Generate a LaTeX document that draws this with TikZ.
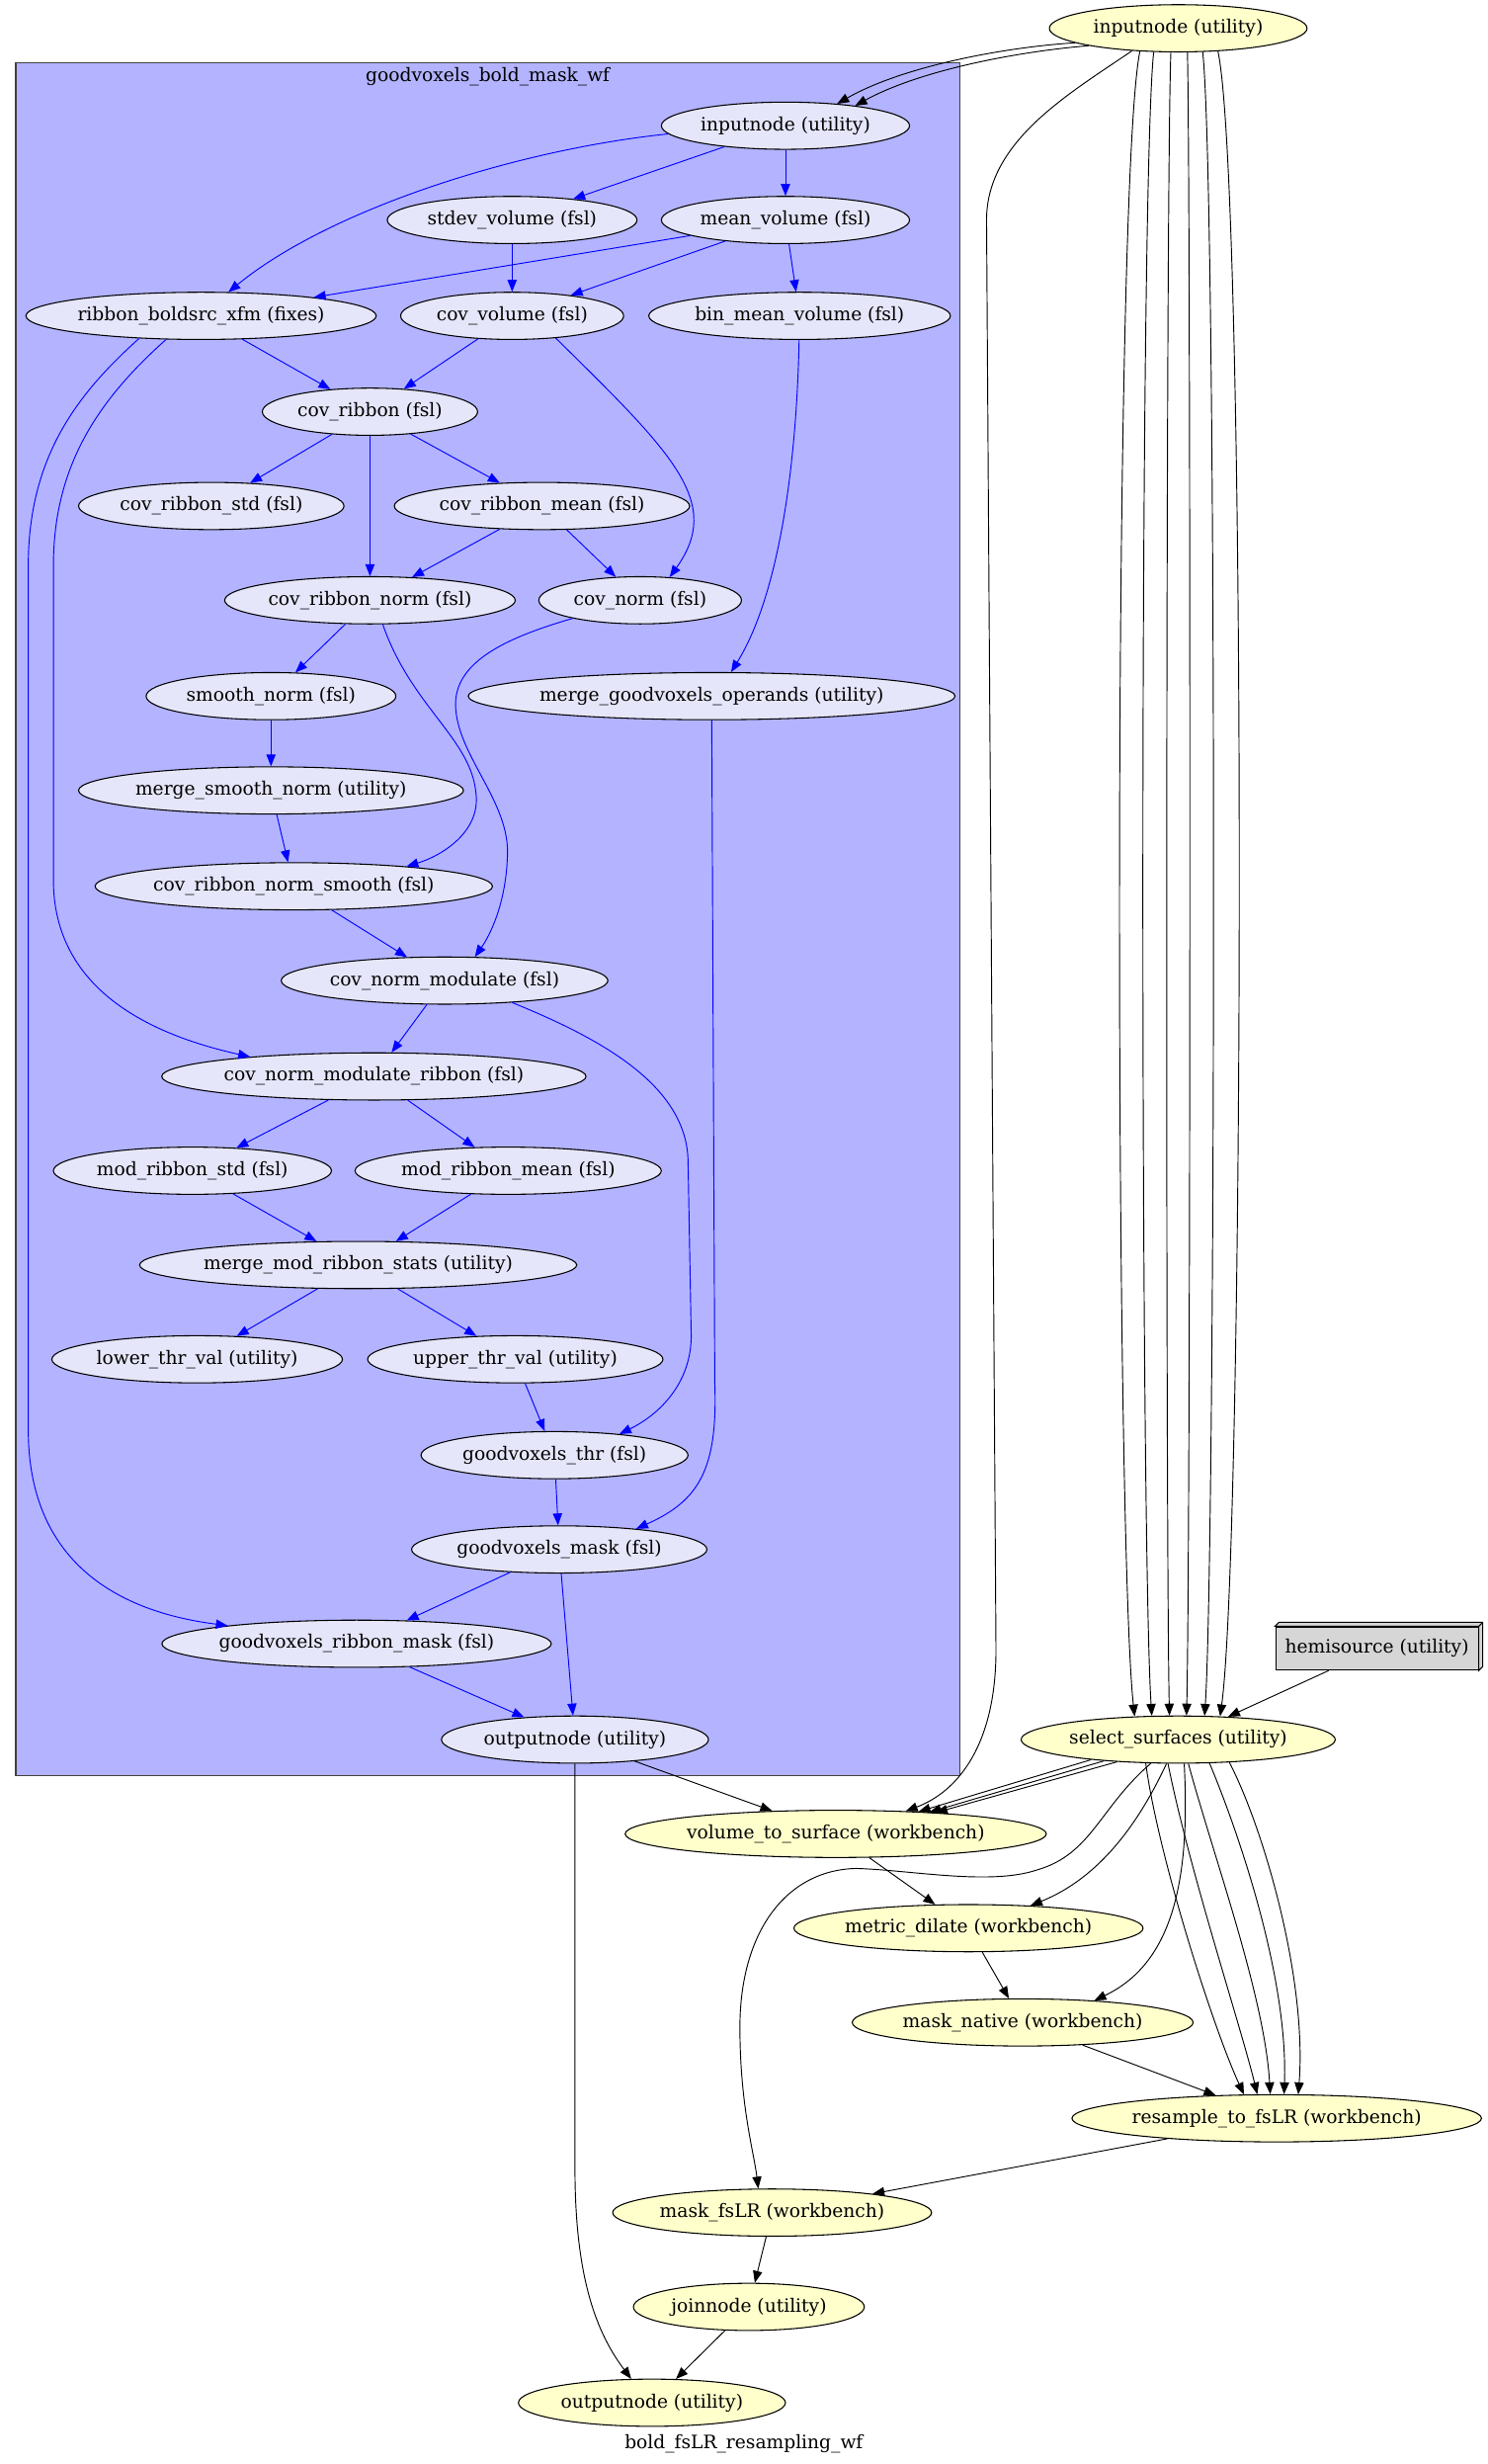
\documentclass[tikz,border=0pt]{standalone}
\usepackage{fontspec}
\setmainfont{DejaVu Serif}
\usepackage{xcolor}
\usepackage{tikz}
\usetikzlibrary{shapes.geometric,arrows.meta}
\definecolor{clusterblue}{HTML}{B3B3FF}
\definecolor{lavenderfill}{HTML}{E6E6FA}
\definecolor{yellowfill}{HTML}{FFFFCC}
\definecolor{greyfill}{HTML}{D6D6D6}

\begin{document}
\begin{tikzpicture}[
			x=1.1925pt, y=-1.1925pt,
			% Define the style for the nodes
			every node/.style={font=\fontsize{14}{16}\selectfont},
			innernode/.style={ellipse, draw, line width=0.8pt, fill=lavenderfill, inner sep=0pt, minimum height=35.8pt},
			outernode/.style={ellipse, draw, line width=0.8pt, fill=yellowfill, inner sep=0pt, minimum height=35.8pt},
			blueedge/.style={draw=blue, line width=0.7pt, -{Triangle[length=9pt,width=7pt]}},
			blackedge/.style={draw=black, line width=0.7pt, -{Triangle[length=9pt,width=7pt]}}
			]

			\useasboundingbox (0,0) rectangle (947,1568);

			\draw[black!75, line width=1pt, fill=clusterblue] (10,40) rectangle (611,1130);
			\node (clusterlabel) at (310.5,49) {goodvoxels\_bold\_mask\_wf};

			\node (inp0) at (750,18) [outernode, minimum width=195.6pt] {inputnode (utility)};
			\node (sel) at (750,1107) [outernode, minimum width=238.5pt] {select\_surfaces (utility)};
			\node (hemi) at (876.5,1049) [rectangle, draw, line width=0.8pt, fill=greyfill, inner sep=0pt, minimum width=153.8pt, minimum height=32.8pt] {hemisource (utility)};
			\draw[line width=0.8pt, fill=greyfill] (hemi.north west) -- ++(3pt,3pt) -- ([shift={(3pt,3pt)}]hemi.north east) -- ([shift={(3pt,3pt)}]hemi.south east) -- (hemi.south east) -- (hemi.north east) -- cycle;
			\draw[line width=0.8pt] (hemi.north east) -- ++(3pt,3pt);
			\node (v2s) at (532,1167) [outernode, minimum width=313.6pt] {volume\_to\_surface (workbench)};
			\node (md) at (616.5,1227) [outernode, minimum width=263.5pt] {metric\_dilate (workbench)};
			\node (mn) at (651,1287) [outernode, minimum width=258.8pt] {mask\_native (workbench)};
			\node (rs) at (812.7,1348) [outernode, minimum width=306.5pt] {resample\_to\_fsLR (workbench)};
			\node (mf) at (491.5,1408) [outernode, minimum width=242.1pt] {mask\_fsLR (workbench)};
			\node (jn) at (476.7,1468) [outernode, minimum width=175.3pt] {joinnode (utility)};
			\node (out0) at (415,1529) [outernode, minimum width=202.7pt] {outputnode (utility)};
			\node (wflabel) at (473.5,1555) {bold\_fsLR\_resampling\_wf};

			\node (inp1) at (500,80) [innernode, minimum width=188.4pt] {inputnode (utility)};
			\node (sd) at (326,140) [innernode, minimum width=189.6pt] {stdev\_volume (fsl)};
			\node (mv) at (500,140) [innernode, minimum width=188.4pt] {mean\_volume (fsl)};
			\node (rb) at (128,201) [innernode, minimum width=265.9pt] {ribbon\_boldsrc\_xfm (fixes)};
			\node (cv) at (326,201) [innernode, minimum width=169.3pt] {cov\_volume (fsl)};
			\node (bmv) at (509,201) [innernode, minimum width=229pt] {bin\_mean\_volume (fsl)};
			\node (cr) at (235.5,262) [innernode, minimum width=163.4pt] {cov\_ribbon (fsl)};
			\node (crs) at (134.5,322) [innernode, minimum width=201.5pt] {cov\_ribbon\_std (fsl)};
			\node (crm) at (345,322) [innernode, minimum width=224.2pt] {cov\_ribbon\_mean (fsl)};
			\node (crn) at (235.5,382) [innernode, minimum width=220.6pt] {cov\_ribbon\_norm (fsl)};
			\node (cn) at (407.5,382) [innernode, minimum width=153.8pt] {cov\_norm (fsl)};
			\node (sn) at (172.5,443) [innernode, minimum width=189.6pt] {smooth\_norm (fsl)};
			\node (mgo) at (453,443) [innernode, minimum width=362.5pt] {merge\_goodvoxels\_operands (utility)};
			\node (msn) at (172.5,503) [innernode, minimum width=292.2pt] {merge\_smooth\_norm (utility)};
			\node (crns) at (187,564) [innernode, minimum width=298.1pt] {cov\_ribbon\_norm\_smooth (fsl)};
			\node (cnm) at (283,624) [innernode, minimum width=248pt] {cov\_norm\_modulate (fsl)};
			\node (cnmr) at (238,685) [innernode, minimum width=317.2pt] {cov\_norm\_modulate\_ribbon (fsl)};
			\node (mrs) at (122.5,745) [innernode, minimum width=211.1pt] {mod\_ribbon\_std (fsl)};
			\node (mrm) at (323.5,745) [innernode, minimum width=232.5pt] {mod\_ribbon\_mean (fsl)};
			\node (mmrs) at (228,805) [innernode, minimum width=326.7pt] {merge\_mod\_ribbon\_stats (utility)};
			\node (ltv) at (125.5,865) [innernode, minimum width=220.6pt] {lower\_thr\_val (utility)};
			\node (utv) at (328,865) [innernode, minimum width=224.2pt] {upper\_thr\_val (utility)};
			\node (gt) at (353,926) [innernode, minimum width=202.7pt] {goodvoxels\_thr (fsl)};
			\node (gm) at (356,986) [innernode, minimum width=224.2pt] {goodvoxels\_mask (fsl)};
			\node (grm) at (227,1046) [innernode, minimum width=293.4pt] {goodvoxels\_ribbon\_mask (fsl)};
			\node (out1) at (366,1107) [innernode, minimum width=202.7pt] {outputnode (utility)};

			\draw[blueedge] (inp1)--(sd);
			\draw[blueedge] (inp1)--(mv);
			\draw[blueedge] (inp1.-176) .. controls (330,95) and (210,133) .. (rb.41);
			\draw[blueedge] (sd)--(cv);
			\draw[blueedge] (mv)--(rb);
			\draw[blueedge] (mv)--(cv);
			\draw[blueedge] (mv)--(bmv);
			\draw[blueedge] (rb)--(cr);
			\draw[blueedge] (rb.-146) .. controls (62,255) and (34,297) .. (34,360) -- (34,560) .. controls (34,620) and (80,655) .. (cnmr.171);
			\draw[blueedge] (rb.-160) .. controls (50,250) and (18,290) .. (18,360) -- (18,910) .. controls (18,990) and (70,1025) .. (grm.172);
			\draw[blueedge] (cv)--(cr);
			\draw[blueedge] (cv.-27) .. controls (430,290) and (460,320) .. (cn.38);
			\draw[blueedge] (bmv) .. controls (507,300) and (495,380) .. (mgo.51);
			\draw[blueedge] (cr)--(crs);
			\draw[blueedge] (cr)--(crm);
			\draw[blueedge] (cr)--(crn);
			\draw[blueedge] (crm)--(crn);
			\draw[blueedge] (crm)--(cn);
			\draw[blueedge] (crn)--(sn);
			\draw[blueedge] (crn.-62) .. controls (262,450) and (300,470) .. (303,505) .. controls (306,530) and (280,545) .. (crns.10);
			\draw[blueedge] (cn.-165) .. controls (325,405) and (290,420) .. (290,448) .. controls (290,480) and (325,510) .. (323,545) .. controls (322,575) and (312,595) .. (cnm.38);
			\draw[blueedge] (sn)--(msn);
			\draw[blueedge] (msn)--(crns);
			\draw[blueedge] (crns)--(cnm);
			\draw[blueedge] (mgo) -- (455,880) .. controls (457,935) and (445,955) .. (gm.15);
			\draw[blueedge] (cnm)--(cnmr);
			\draw[blueedge] (cnm.-18) .. controls (380,660) and (438,690) .. (438,740) -- (440,850) .. controls (440,880) and (420,900) .. (gt.18);
			\draw[blueedge] (cnmr)--(mrs);
			\draw[blueedge] (cnmr)--(mrm);
			\draw[blueedge] (mrs)--(mmrs);
			\draw[blueedge] (mrm)--(mmrs);
			\draw[blueedge] (mmrs)--(ltv);
			\draw[blueedge] (mmrs)--(utv);
			\draw[blueedge] (utv)--(gt);
			\draw[blueedge] (gt)--(gm);
			\draw[blueedge] (gm)--(grm);
			\draw[blueedge] (gm)--(out1);
			\draw[blueedge] (grm)--(out1);

			\draw[blackedge] (inp0.-172) .. controls (640,30) and (575,42) .. (inp1.23);
			\draw[blackedge] (inp0.-169) .. controls (646,33) and (585,45) .. (inp1.16);
			\draw[blackedge] (inp0.-154) .. controls (680,60) and (628,90) .. (628,140) -- (634,1050) .. controls (634,1110) and (610,1140) .. (v2s.18);
			\draw[blackedge] (inp0.-149) .. controls (708,120) and (710,980) .. (sel.152);
			\draw[blackedge] (inp0.-136) .. controls (725,120) and (726,980) .. (sel.138);
			\draw[blackedge] (inp0.-107) .. controls (742,120) and (742,980) .. (sel.110);
			\draw[blackedge] (inp0.-69) .. controls (758,120) and (758,980) .. (sel.71);
			\draw[blackedge] (inp0.-44) .. controls (775,120) and (774,980) .. (sel.42);
			\draw[blackedge] (inp0.-30) .. controls (794,120) and (792,980) .. (sel.29);
			\draw[blackedge] (hemi)--(sel);

			\draw[blackedge] (sel.-167)--(v2s.15);
			\draw[blackedge] (sel.-164)--(v2s.13.3);
			\draw[blackedge] (sel.-160)--(v2s.12);
			\draw[blackedge] (out1)--(v2s);
			\draw[blackedge] (out1) -- (366,1380) .. controls (366,1450) and (380,1485) .. (out0.131);
			\draw[blackedge] (sel.-116) .. controls (725,1160) and (700,1195) .. (md.20);
			\draw[blackedge] (sel.-76) .. controls (758,1200) and (745,1250) .. (mn.17);
			\draw[blackedge] (sel.-139.5) .. controls (700,1150) and (695,1180) .. (660,1190) .. controls (630,1200) and (580,1190) .. (545,1189) .. controls (500,1190) and (471,1230) .. (471,1290) .. controls (471,1340) and (480,1370) .. (mf.120);
			\draw[blackedge] (sel.-144) .. controls (737,1180) and (772,1290) .. (rs.144);
			\draw[blackedge] (sel.-113) .. controls (757,1190) and (790,1290) .. (rs.129);
			\draw[blackedge] (sel.-67.5) .. controls (772,1180) and (805,1270) .. (rs.105);
			\draw[blackedge] (sel.-37) .. controls (790,1170) and (820,1260) .. (rs.73);
			\draw[blackedge] (sel.-24) .. controls (805,1165) and (832,1260) .. (rs.48);

			\draw[blackedge] (v2s)--(md);
			\draw[blackedge] (md)--(mn);
			\draw[blackedge] (mn)--(rs);
			\draw[blackedge] (rs)--(mf);
			\draw[blackedge] (mf)--(jn);
			\draw[blackedge] (jn)--(out0);

		\end{tikzpicture}
\end{document}
